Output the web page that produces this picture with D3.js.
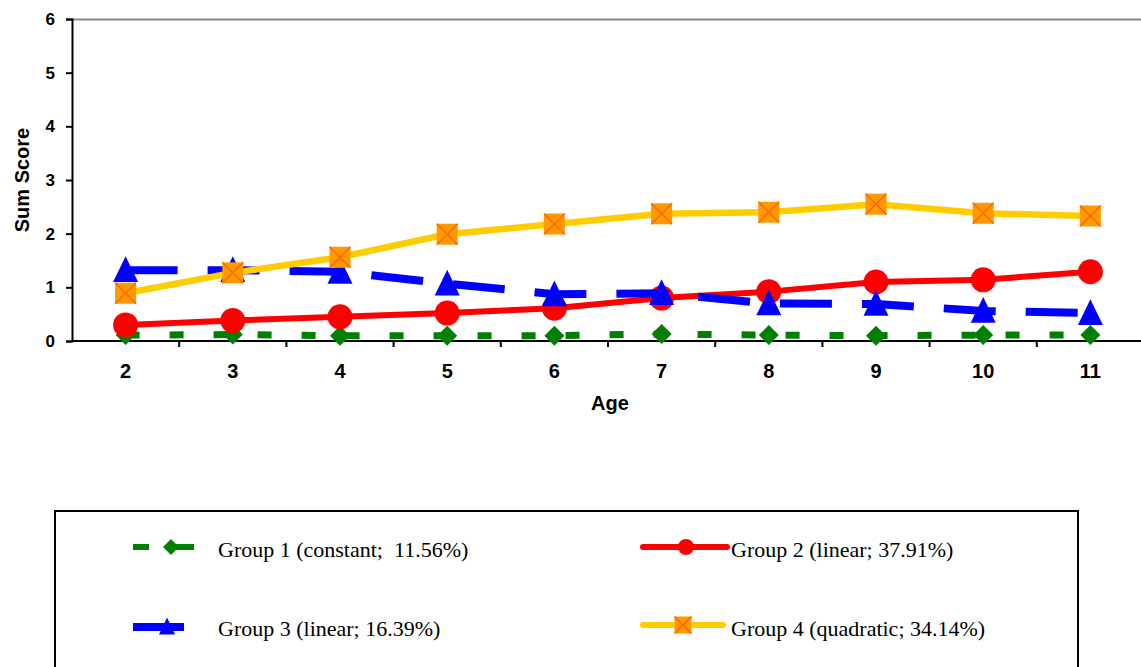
<!DOCTYPE html>
<html>
<head>
<meta charset="utf-8">
<script src="https://cdn.jsdelivr.net/npm/d3@7"></script>
<style>
  html, body { margin: 0; padding: 0; background: #fff; }
  svg { display: block; }
  .tick text { font-family: "Liberation Sans", Arial, sans-serif; font-weight: bold; fill: #000; }
  .yax .tick text { font-size: 17px; }
  .xax .tick text { font-size: 20px; }
  .leg text { font-family: "Liberation Serif", "Times New Roman", serif; font-size: 22px; fill: #000; white-space: pre; }
</style>
</head>
<body>
<svg id="chart" width="1141" height="667"></svg>
<script>
const ages = [2, 3, 4, 5, 6, 7, 8, 9, 10, 11];
const group1 = [0.11, 0.12, 0.10, 0.10, 0.10, 0.13, 0.11, 0.10, 0.11, 0.11];
const group2 = [0.30, 0.38, 0.45, 0.52, 0.61, 0.80, 0.92, 1.10, 1.14, 1.29];
const group3 = [1.32, 1.32, 1.29, 1.07, 0.87, 0.89, 0.70, 0.69, 0.56, 0.52];
const group4 = [0.89, 1.27, 1.56, 1.99, 2.18, 2.37, 2.40, 2.55, 2.38, 2.33];
const yTicks = [0, 1, 2, 3, 4, 5, 6];
const seriesNames = [
  "Group 1 (constant;  11.56%)",
  "Group 2 (linear; 37.91%)",
  "Group 3 (linear; 16.39%)",
  "Group 4 (quadratic; 34.14%)"
];

(function () {
const svg = d3.select("#chart");
const pLeft = 72, pRight = 1144, pTop = 19, pBottom = 341;

const x = d3.scaleBand().domain(ages).range([pLeft, pRight]).padding(0);
const y = d3.scaleLinear().domain([0, 6]).range([pBottom, pTop]);
const cx = d => x(d) + x.bandwidth() / 2;

// top border (gray)
svg.append("line").attr("x1", pLeft).attr("x2", 1141).attr("y1", pTop + 0.5).attr("y2", pTop + 0.5)
  .attr("stroke", "#888").attr("stroke-width", 2);

// y axis
const yAxis = svg.append("g").attr("class", "yax").attr("transform", `translate(${pLeft},0)`)
  .call(d3.axisLeft(y).tickValues(yTicks).tickFormat(d3.format("d")).tickSize(6).tickPadding(11));
yAxis.select(".domain").attr("stroke", "#000").attr("stroke-width", 2);
yAxis.selectAll(".tick line").attr("stroke", "#000").attr("stroke-width", 2);

// x axis
const xAxis = svg.append("g").attr("class", "xax").attr("transform", `translate(0,${pBottom})`)
  .call(d3.axisBottom(x).tickSize(0).tickPadding(23));
xAxis.select(".domain").remove();
svg.append("line").attr("x1", pLeft).attr("x2", 1141).attr("y1", pBottom).attr("y2", pBottom)
  .attr("stroke", "#000").attr("stroke-width", 2);
const boundaries = ages.map(a => x(a)).concat([pRight]);
svg.append("g").selectAll("line").data(boundaries.slice(1)).join("line")
  .attr("x1", d => d).attr("x2", d => d).attr("y1", pBottom).attr("y2", pBottom + 6)
  .attr("stroke", "#000").attr("stroke-width", 2);

// axis titles
svg.append("text").attr("x", 610).attr("y", 410).attr("text-anchor", "middle")
  .attr("font-family", "Liberation Sans, Arial, sans-serif").attr("font-weight", "bold").attr("font-size", 20)
  .text("Age");
svg.append("text").attr("transform", "translate(29,180) rotate(-90)").attr("text-anchor", "middle")
  .attr("font-family", "Liberation Sans, Arial, sans-serif").attr("font-weight", "bold").attr("font-size", 20)
  .text("Sum Score");

const line = d3.line().x((d, i) => cx(ages[i])).y(d => y(d));

function diamond(g, px, py, s) {
  g.append("path").attr("d", `M${px},${py - s}L${px + s},${py}L${px},${py + s}L${px - s},${py}Z`).attr("fill", "#008000");
}
function circle(g, px, py, r) {
  g.append("circle").attr("cx", px).attr("cy", py).attr("r", r).attr("fill", "#ff0000");
}
function triangle(g, px, py, s) {
  const h = s * 0.95;
  g.append("path").attr("d", `M${px},${py - h / 2 - 2}L${px + s / 2},${py + h / 2}L${px - s / 2},${py + h / 2}Z`).attr("fill", "#0000ff");
}
function square(g, px, py, s) {
  g.append("rect").attr("x", px - s / 2).attr("y", py - s / 2).attr("width", s).attr("height", s).attr("fill", "#ff9900");
  g.append("path").attr("d", `M${px - s / 2},${py - s / 2}L${px + s / 2},${py + s / 2}M${px + s / 2},${py - s / 2}L${px - s / 2},${py + s / 2}`)
    .attr("stroke", "#ff6600").attr("stroke-width", 1.5);
}

const plot = svg.append("g");
const series = [
  { data: group1, color: "#008000", width: 7, dash: "14,30", cap: "butt", marker: (g, a, b) => diamond(g, a, b, 10), legMarker: (g, a, b) => diamond(g, a, b, 8) },
  { data: group2, color: "#ff0000", width: 6, dash: null, cap: "round", marker: (g, a, b) => circle(g, a, b, 12.5), legMarker: (g, a, b) => circle(g, a, b, 8) },
  { data: group3, color: "#0000ff", width: 8, dash: "52,30", cap: "butt", marker: (g, a, b) => triangle(g, a, b, 25), legMarker: (g, a, b) => triangle(g, a, b, 16) },
  { data: group4, color: "#ffcc00", width: 6.5, dash: null, cap: "round", marker: (g, a, b) => square(g, a, b, 21), legMarker: (g, a, b) => square(g, a, b, 17) }
];

series.forEach(s => {
  const g = plot.append("g");
  g.append("path").attr("d", line(s.data)).attr("fill", "none").attr("stroke", s.color)
    .attr("stroke-width", s.width).attr("stroke-dasharray", s.dash).attr("stroke-linecap", s.cap)
    .attr("stroke-linejoin", "round");
  s.data.forEach((v, i) => s.marker(g, cx(ages[i]), y(v)));
});

// legend
const leg = svg.append("g").attr("class", "leg");
leg.append("rect").attr("x", 55).attr("y", 511).attr("width", 1023).attr("height", 200)
  .attr("fill", "#fff").attr("stroke", "#000").attr("stroke-width", 2);
const legPos = [
  { lx: 133, lx2: 194, mx: 171, tx: 218, ly: 547, ty: 557 },
  { lx: 643, lx2: 727, mx: 686, tx: 731, ly: 547, ty: 557 },
  { lx: 133, lx2: 184, mx: 167, tx: 218, ly: 627, ty: 636 },
  { lx: 643, lx2: 723, mx: 683, tx: 731, ly: 625, ty: 636 }
];
series.forEach((s, i) => {
  const p = legPos[i];
  const g = leg.append("g");
  g.append("line").attr("x1", p.lx).attr("x2", p.lx2).attr("y1", p.ly).attr("y2", p.ly)
    .attr("stroke", s.color).attr("stroke-width", i === 2 ? 8 : 6)
    .attr("stroke-dasharray", i === 0 ? "16,22,60" : null)
    .attr("stroke-linecap", s.cap);
  s.legMarker(g, p.mx, p.ly);
  g.append("text").attr("x", p.tx).attr("y", p.ty).text(seriesNames[i]);
});
})();
</script>
</body>
</html>
